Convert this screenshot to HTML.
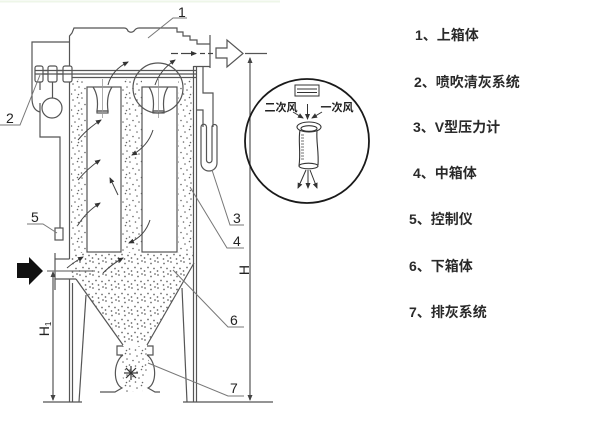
<!DOCTYPE html>
<html>
<head>
<meta charset="utf-8">
<style>
  html,body{margin:0;padding:0;background:#fff;}
  body{width:609px;height:423px;overflow:hidden;}
  svg{display:block;}
  .leg{font-family:"Liberation Sans","Noto Sans CJK SC",sans-serif;font-size:14px;font-weight:bold;fill:#2a2a2a;}
  .num{font-family:"Liberation Sans",sans-serif;font-size:14px;fill:#222;}
  .cj{font-family:"Liberation Sans","Noto Sans CJK SC",sans-serif;font-size:11px;font-weight:bold;fill:#222;}
</style>
</head>
<body>
<svg width="609" height="423" viewBox="0 0 609 423" xmlns="http://www.w3.org/2000/svg">
  <defs>
    <pattern id="d" width="16" height="16" patternUnits="userSpaceOnUse">
      <circle cx="2" cy="2" r="0.8" fill="#666"/>
      <circle cx="9" cy="4" r="0.8" fill="#666"/>
      <circle cx="13.5" cy="1.5" r="0.8" fill="#666"/>
      <circle cx="5" cy="8.5" r="0.8" fill="#666"/>
      <circle cx="11" cy="10" r="0.8" fill="#666"/>
      <circle cx="1.5" cy="13" r="0.8" fill="#666"/>
      <circle cx="7.5" cy="14" r="0.8" fill="#666"/>
      <circle cx="14.5" cy="14.5" r="0.8" fill="#666"/>
      <circle cx="15" cy="7" r="0.8" fill="#666"/>
    </pattern>
    <pattern id="d2" width="13" height="13" patternUnits="userSpaceOnUse">
      <circle cx="2" cy="2" r="0.85" fill="#666"/>
      <circle cx="8" cy="3.5" r="0.85" fill="#666"/>
      <circle cx="5" cy="7.5" r="0.85" fill="#666"/>
      <circle cx="11" cy="8.5" r="0.85" fill="#666"/>
      <circle cx="1.5" cy="11" r="0.85" fill="#666"/>
      <circle cx="7.5" cy="12" r="0.85" fill="#666"/>
      <circle cx="12" cy="1" r="0.85" fill="#666"/>
    </pattern>
    <marker id="a" markerWidth="6" markerHeight="6" refX="5" refY="3" orient="auto" markerUnits="userSpaceOnUse">
      <path d="M0,0.5 L6,3 L0,5.5 z" fill="#333"/>
    </marker>
    <marker id="ad" markerWidth="6" markerHeight="6" refX="5" refY="3" orient="auto-start-reverse" markerUnits="userSpaceOnUse">
      <path d="M0,0.5 L6,3 L0,5.5 z" fill="#444"/>
    </marker>
  </defs>

  <!-- faint top line -->
  <line x1="0" y1="1.5" x2="280" y2="1.5" stroke="#eef6e8" stroke-width="2"/>

  <!-- dust -->
  <rect x="71" y="79" width="16" height="174" fill="url(#d)"/>
  <rect x="122" y="79" width="20" height="174" fill="url(#d)"/>
  <rect x="178" y="79" width="15" height="174" fill="url(#d)"/>
  <polygon points="71,253 193,253 193,264 147,344 124,344 76,279 71,279" fill="url(#d2)"/>
  <polygon points="121,346 149,346 149,360 142,392 125,392 120,360" fill="url(#d)"/>

  <g stroke="#555" stroke-width="1.2" fill="none">
    <!-- top box -->
    <path d="M69.5,259 L69.5,36 L72,33 L74,28 L124,28 Q127,28 128,31 Q131,33.5 134,31 Q136,28 139,28 L177,28 L177,32 L183,32 L183,36 L190,36 L190,40 L197,40 L197,44 L210,44"/>
    <line x1="210" y1="35" x2="210" y2="68"/>
    <!-- header / tube sheet -->
    <line x1="36" y1="70.5" x2="196" y2="70.5"/>
    <line x1="36" y1="74" x2="196" y2="74"/>
    <line x1="69" y1="77.5" x2="196" y2="77.5"/>
    <!-- left piping -->
    <rect x="35" y="66" width="8" height="16" rx="2" fill="#fff"/>
    <rect x="48" y="66" width="9" height="16" rx="2" fill="#fff"/>
    <rect x="63" y="66" width="9" height="16" rx="2" fill="#fff"/>
    <line x1="35" y1="70.5" x2="72" y2="70.5"/>
    <line x1="35" y1="74" x2="72" y2="74"/>
    <circle cx="52" cy="108" r="10"/>
    <line x1="52.5" y1="82" x2="52.5" y2="98"/>
    <line x1="40" y1="82" x2="40" y2="90"/>
    <path d="M69,42 L32,42 L32,98 Q32,110 40,112"/>
    <path d="M40,103 L40,137 L60,137 L60,228"/>
    <rect x="55" y="228" width="8" height="12"/>
    <!-- bags -->
    <rect x="87" y="87" width="34" height="165" fill="none"/>
    <rect x="142" y="87" width="35" height="165" fill="none"/>
    <!-- venturis -->
    <path d="M93,87 Q99,96 97,111 L108,111 Q106,96 112,87"/>
    <rect x="97" y="111" width="11" height="2"/>
    <path d="M149,87 Q155,96 153,111 L164,111 Q162,96 168,87"/>
    <rect x="153" y="111" width="11" height="2"/>
    <line x1="102.5" y1="79" x2="102.5" y2="118" stroke="#999" stroke-width="0.8"/>
    <line x1="158.5" y1="79" x2="158.5" y2="118" stroke="#999" stroke-width="0.8"/>
    <!-- right walls -->
    <line x1="193.5" y1="66" x2="193.5" y2="402"/>
    <line x1="196.5" y1="66" x2="196.5" y2="402"/>
    <line x1="193.5" y1="66.5" x2="210" y2="66.5"/>
    <path d="M203,66 L203,93 L213,93 L213,127"/>
    <path d="M196,110 L203,110 L203,127"/>
    <!-- U tube -->
    <path d="M201,127 L201,163 A8,8 0 0 0 217,163 L217,127"/>
    <path d="M206.5,127 L206.5,160 A2.75,2.75 0 0 0 212,160 L212,127"/>
    <path d="M201,127 A2.75,2.75 0 0 1 206.5,127"/>
    <path d="M212,127 A2.5,2.5 0 0 1 217,127"/>
    <!-- outlet arrow -->
    <polygon points="216,48 227,48 227,40 243,53.5 227,67 227,58 216,58"/>
    <!-- highlight circle -->
    <circle cx="158" cy="88" r="25"/>
    <!-- inlet -->
    <line x1="55" y1="253" x2="55" y2="290"/>
    <line x1="55" y1="259" x2="69.5" y2="259"/>
    <line x1="55" y1="279" x2="76" y2="279"/>
    <line x1="76" y1="279" x2="123" y2="345"/>
    <line x1="194" y1="263" x2="147" y2="345"/>
    <!-- legs -->
    <line x1="69.5" y1="279" x2="69.5" y2="402"/>
    <line x1="72.5" y1="283" x2="72.5" y2="402"/>
    <line x1="86" y1="295" x2="79" y2="402"/>
    <line x1="182" y1="288" x2="187" y2="402"/>
    <!-- valve -->
    <path d="M123,346 L117,346 L117,355 L123,355"/>
    <path d="M147,346 L153,346 L153,355 L147,355"/>
    <path d="M123,355 C113,362 113,384 122,388 L115,392 L100,392"/>
    <path d="M147,355 C157,362 157,384 148,388 L155,392 L160,392"/>
    <g stroke="#333">
      <line x1="131" y1="366" x2="131" y2="380"/>
      <line x1="124" y1="373" x2="138" y2="373"/>
      <line x1="126" y1="368" x2="136" y2="378"/>
      <line x1="136" y1="368" x2="126" y2="378"/>
    </g>
    <!-- ground / dims -->
    <line x1="43" y1="402" x2="82" y2="402"/>
    <line x1="183" y1="402" x2="273" y2="402"/>
    <line x1="245" y1="53.5" x2="267" y2="53.5"/>
    <line x1="250" y1="58" x2="250" y2="400" marker-start="url(#ad)" marker-end="url(#ad)"/>
    <line x1="53" y1="272" x2="53" y2="400" marker-start="url(#ad)" marker-end="url(#ad)"/>
    <line x1="47" y1="271" x2="95" y2="271" stroke="#777"/>
  </g>

  <!-- dash-dot airflow line to outlet -->
  <g stroke="#444" stroke-width="1.2">
    <line x1="171" y1="53.5" x2="178" y2="53.5"/>
    <line x1="181" y1="53.5" x2="196" y2="53.5" marker-end="url(#a)"/>
    <line x1="200" y1="53.5" x2="205" y2="53.5"/>
    <line x1="208" y1="53.5" x2="213" y2="53.5"/>
  </g>

  <!-- airflow arrows -->
  <g stroke="#444" stroke-width="1" fill="none" marker-end="url(#a)">
    <path d="M108,85 Q112,70 128,62"/>
    <path d="M155,85 Q160,70 175,60"/>
    <path d="M78,140 Q88,128 101,120"/>
    <path d="M78,180 Q88,168 100,160"/>
    <path d="M118,195 L110,178"/>
    <path d="M153,130 Q148,146 132,155"/>
    <path d="M78,225 Q86,212 100,203"/>
    <path d="M150,220 Q145,236 129,243"/>
    <path d="M67,268 Q74,262 83,257"/>
    <path d="M103,273 Q112,264 123,258"/>
  </g>

  <!-- inlet black arrow -->
  <polygon points="17,263 29,263 29,257 43,271 29,285 29,278 17,278" fill="#111"/>

  <!-- leaders -->
  <g stroke="#777" stroke-width="1" fill="none">
    <path d="M148,38 L173,18 L187,18"/>
    <path d="M0,125 L20,125 L40,75"/>
    <path d="M212,170 L230,225 L244,225"/>
    <path d="M190,187 L227,248 L244,248"/>
    <path d="M27,224 L43,224 L57,233"/>
    <path d="M173,270 L228,327 L244,327"/>
    <path d="M148,363 L228,396 L244,396"/>
  </g>

  <!-- number labels -->
  <text class="num" x="178" y="17">1</text>
  <text class="num" x="6" y="123">2</text>
  <text class="num" x="233" y="223">3</text>
  <text class="num" x="233" y="246">4</text>
  <text class="num" x="31" y="222">5</text>
  <text class="num" x="230" y="325">6</text>
  <text class="num" x="230" y="393">7</text>
  <text class="num" x="0" y="0" transform="translate(249,270) rotate(-90)" text-anchor="middle" font-size="13">H</text>
  <text class="num" x="0" y="0" transform="translate(49,329) rotate(-90)" text-anchor="middle" font-size="13">H<tspan font-size="8" dy="2">1</tspan></text>

  <!-- magnified detail -->
  <circle cx="307" cy="141" r="62" stroke="#1a1a1a" stroke-width="1.8" fill="none"/>
  <g stroke="#333" stroke-width="1" fill="none">
    <rect x="295" y="85" width="24" height="11"/>
    <line x1="297" y1="89" x2="317" y2="89"/>
    <line x1="297" y1="92.5" x2="317" y2="92.5"/>
  </g>
  <text class="cj" x="281" y="111" text-anchor="middle">二次风</text>
  <text class="cj" x="337" y="111" text-anchor="middle">一次风</text>
  <g stroke="#333" stroke-width="1" fill="none" marker-end="url(#a)">
    <line x1="307.5" y1="104" x2="307.5" y2="119"/>
    <line x1="293" y1="112" x2="303" y2="118"/>
    <line x1="322" y1="112" x2="312" y2="118"/>
  </g>
  <g stroke="#333" stroke-width="1.1" fill="none">
    <ellipse cx="309" cy="127" rx="12" ry="5"/>
    <ellipse cx="309" cy="128.5" rx="8" ry="2.8"/>
    <path d="M300,130 C298,140 301,152 299,166"/>
    <path d="M317,131 C316,141 319,152 318,165"/>
    <ellipse cx="308.5" cy="166" rx="9.5" ry="2.8"/>
    <g stroke-width="0.7">
      <line x1="301" y1="135" x2="304" y2="135"/>
      <line x1="301" y1="138" x2="304" y2="138"/>
      <line x1="301" y1="141" x2="304" y2="141"/>
      <line x1="301" y1="144" x2="304" y2="144"/>
      <line x1="301" y1="147" x2="304" y2="147"/>
      <line x1="301" y1="150" x2="304" y2="150"/>
      <line x1="301" y1="153" x2="304" y2="153"/>
      <line x1="301" y1="156" x2="304" y2="156"/>
      <line x1="301" y1="159" x2="304" y2="159"/>
    </g>
  </g>
  <g stroke="#333" stroke-width="1" fill="none" marker-end="url(#a)">
    <line x1="306" y1="170" x2="298" y2="188"/>
    <line x1="308" y1="170" x2="308" y2="188"/>
    <line x1="310" y1="170" x2="317" y2="188"/>
  </g>

  <!-- legend -->
  <text class="leg" x="415" y="40">1、上箱体</text>
  <text class="leg" x="414" y="87">2、喷吹清灰系统</text>
  <text class="leg" x="413" y="132">3、V型压力计</text>
  <text class="leg" x="413" y="178">4、中箱体</text>
  <text class="leg" x="409" y="224">5、控制仪</text>
  <text class="leg" x="409" y="271">6、下箱体</text>
  <text class="leg" x="409" y="317">7、排灰系统</text>
</svg>
</body>
</html>
